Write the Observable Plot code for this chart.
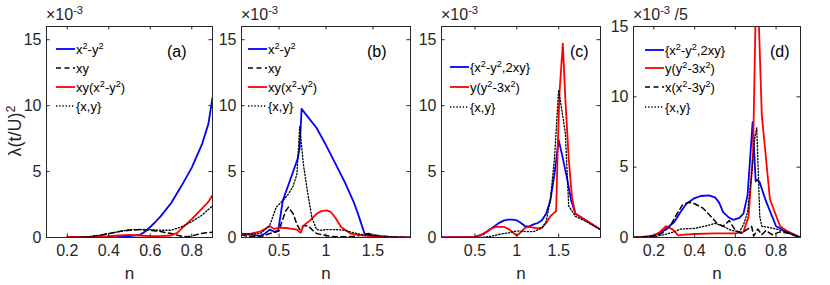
<!DOCTYPE html>
<html><head><meta charset="utf-8">
<script src="https://cdn.jsdelivr.net/npm/d3@7"></script>
<script src="https://cdn.jsdelivr.net/npm/@observablehq/plot@0.6"></script>
<style>
body{margin:0;background:#fff;}
#wrap{position:relative;width:830px;height:285px;font-family:"Liberation Sans",Arial,Helvetica,sans-serif;overflow:hidden;}
.ann{position:absolute;white-space:nowrap;color:#000;line-height:1;}
.leg{position:absolute;white-space:nowrap;display:flex;align-items:center;font-size:13px;color:#000;height:14px;}
.leg svg{margin-right:1px;}
sup{font-size:0.7em;vertical-align:0.5em;line-height:0;}
</style></head><body><div id="wrap"></div><script>
// ---------------- data: n vs λ(t/U)^2 (×10^-3) ----------------
// panel (a)
const aBlueN = [0.2,0.3,0.4,0.45,0.5,0.55,0.58,0.62,0.65,0.7,0.75,0.8,0.85,0.88,0.9];
const aBlueV = [0,0,0.03,0.05,0.1,0.2,0.5,1.1,1.6,2.6,3.9,5.3,7.1,8.6,10.6];
const aDashN = [0.2,0.3,0.35,0.4,0.45,0.5,0.55,0.6,0.65,0.7,0.75,0.78,0.82,0.86,0.9];
const aDashV = [0,0.05,0.15,0.3,0.45,0.55,0.6,0.55,0.45,0.3,0.1,0.05,0.2,0.35,0.4];
const aRedN  = [0.2,0.3,0.4,0.45,0.5,0.55,0.6,0.65,0.7,0.73,0.76,0.8,0.85,0.88,0.9];
const aRedV  = [0.05,0.05,0.1,0.15,0.2,0.15,0.1,0.1,0.15,0.35,0.8,1.4,2.2,2.7,3.2];
const aDotN  = [0.2,0.3,0.35,0.4,0.45,0.5,0.55,0.6,0.65,0.7,0.75,0.8,0.85,0.9];
const aDotV  = [0,0.05,0.15,0.3,0.45,0.6,0.6,0.6,0.55,0.55,0.8,1.2,1.7,2.4];
// panel (b)
const bBlueN = [0.1,0.2,0.3,0.35,0.4,0.45,0.49,0.54,0.6,0.65,0.7,0.72,0.74,0.8,0.9,1.0,1.1,1.2,1.3,1.35,1.41,1.5,1.6,1.7,1.9];
const bBlueV = [0.3,0.2,0.12,0.3,0.6,0.45,0.5,2.8,4.0,5.0,6.0,6.8,9.75,9.2,8.3,7.0,5.6,4.2,2.6,1.6,0.3,0.15,0.05,0,0];
const bDashN = [0.1,0.2,0.3,0.4,0.5,0.53,0.57,0.6,0.65,0.69,0.72,0.76,0.81,0.85,0.9,1.0,1.1,1.2,1.3,1.4,1.45,1.5,1.6,1.7,1.9];
const bDashV = [0.2,0.05,0.05,0.3,0.5,1.2,2.0,2.3,1.8,1.0,0.6,0.9,0.9,0.6,0.3,0.15,0.05,0.05,0.1,0.2,0.3,0.2,0.1,0.05,0];
const bRedN  = [0.1,0.2,0.3,0.4,0.45,0.5,0.6,0.69,0.73,0.76,0.83,0.9,0.95,1.01,1.05,1.1,1.16,1.26,1.4,1.5,1.7,1.9];
const bRedV  = [0.25,0.3,0.45,0.85,0.65,0.75,0.7,0.6,0.35,0.9,1.3,1.8,2.0,2.05,1.95,1.5,0.8,0.3,0.15,0.1,0.03,0];
const bDotN  = [0.1,0.2,0.3,0.4,0.47,0.54,0.6,0.65,0.69,0.72,0.76,0.8,0.85,0.9,0.95,1.0,1.1,1.2,1.3,1.4,1.5,1.6,1.7,1.9];
const bDotV  = [0.3,0.25,0.3,0.9,2.3,2.8,3.3,3.9,4.8,8.4,5.5,3.6,1.5,0.6,0.55,0.6,0.6,0.55,0.35,0.2,0.15,0.1,0.05,0];
// panel (c)
const cBlueN = [0.1,0.4,0.5,0.6,0.7,0.8,0.85,0.9,0.95,1.0,1.05,1.1,1.15,1.2,1.25,1.3,1.35,1.4,1.45,1.5,1.55,1.6,1.65,1.7,1.8,1.9,2.0];
const cBlueV = [0,0,0.05,0.25,0.7,1.15,1.3,1.35,1.35,1.3,1.1,0.85,0.85,1.0,1.1,1.3,1.8,2.8,4.8,7.4,6.0,4.5,2.8,1.8,1.4,1.0,0.6];
const cRedN  = [0.1,0.5,0.55,0.6,0.65,0.7,0.75,0.8,0.85,0.9,0.95,1.0,1.05,1.1,1.15,1.2,1.25,1.3,1.35,1.4,1.45,1.47,1.49,1.51,1.55,1.58,1.62,1.66,1.7,1.8,1.9,2.0];
const cRedV  = [0,0.05,0.15,0.3,0.5,0.7,0.8,0.8,0.8,0.65,0.4,0.15,0.4,0.75,0.8,0.75,0.7,0.75,1.1,1.6,1.9,2.0,7.0,11.0,14.7,10.5,6.0,3.0,1.8,1.4,1.0,0.6];
const cDotN  = [0.1,0.6,0.7,0.8,0.9,1.0,1.1,1.2,1.3,1.35,1.4,1.45,1.5,1.53,1.58,1.62,1.7,1.8,1.9,2.0];
const cDotV  = [0,0.02,0.1,0.25,0.35,0.5,0.45,0.45,0.7,1.2,2.8,6.0,11.2,10.0,7.9,2.4,1.6,1.3,0.95,0.6];
// panel (d)  (values /5)
const dBlueN = [0.1,0.15,0.2,0.25,0.3,0.33,0.36,0.4,0.43,0.47,0.5,0.52,0.54,0.57,0.59,0.62,0.64,0.66,0.685,0.7,0.71,0.72,0.75,0.8,0.85,0.9,0.92];
const dBlueV = [0,0.02,0.15,0.5,1.1,1.8,2.4,2.8,2.95,3.0,2.85,2.5,1.8,1.4,1.25,1.4,1.7,3.0,8.2,4.0,4.1,3.9,2.6,0.8,0.4,0.1,0];
const dRedN  = [0.1,0.2,0.23,0.26,0.29,0.32,0.35,0.4,0.5,0.6,0.64,0.665,0.687,0.705,0.73,0.77,0.82,0.85,0.92];
const dRedV  = [0,0.1,0.4,0.8,0.6,0.15,0.2,0.25,0.3,0.3,0.4,1.5,6,20,8.7,2.7,0.8,0.5,0];
const dDashN = [0.1,0.2,0.24,0.28,0.31,0.34,0.37,0.4,0.44,0.48,0.51,0.54,0.57,0.6,0.63,0.66,0.68,0.69,0.71,0.73,0.75,0.78,0.82,0.86,0.9,0.92];
const dDashV = [0,0.1,0.3,0.8,1.6,2.3,2.5,2.4,2.1,1.5,1.0,0.8,1.2,0.5,0.3,0.6,0.8,0.1,0.6,0.2,0.5,0.2,0.4,0.3,0.1,0];
const dDotN  = [0.1,0.2,0.25,0.3,0.33,0.4,0.45,0.5,0.54,0.58,0.62,0.64,0.66,0.68,0.695,0.705,0.712,0.72,0.73,0.77,0.8,0.85,0.9,0.92];
const dDotV  = [0,0.05,0.2,0.4,0.6,0.65,0.8,1.0,0.8,0.5,0.4,0.9,1.8,4.5,7.0,7.8,5.0,1.5,0.8,0.7,0.6,0.4,0.15,0];

// tick labels
const xTicksA = [0.2,0.4,0.6,0.8];
const xTicksB = [0.5,1,1.5];
const xTicksC = [0.5,1,1.5];
const xTicksD = [0.2,0.4,0.6,0.8];
const yTicks = [0,5,10,15];

// legend labels
const labX2Y2 = "x<sup>2</sup>-y<sup>2</sup>";
const labXY = "xy";
const labXYX2Y2 = "xy(x<sup>2</sup>-y<sup>2</sup>)";
const labXYset = "{x,y}";
const labD = "{x<sup>2</sup>-y<sup>2</sup>,2xy}";
const labF1 = "y(y<sup>2</sup>-3x<sup>2</sup>)";
const labF2 = "x(x<sup>2</sup>-3y<sup>2</sup>)";

// ---------------- styles / layout ----------------
const ST = {
  blue: {stroke:"#0000ff", strokeWidth:1.8},
  red:  {stroke:"#ff0000", strokeWidth:1.8},
  dash: {stroke:"#000", strokeWidth:1.5, strokeDasharray:"5,3.5"},
  dot:  {stroke:"#000", strokeWidth:1.3, strokeDasharray:"1.3,1.9"}
};
const W = 830, H = 285, TOP = 26, BOT = 237;

const panels = [
  {tag:"(a)", l:46, r:212, xd:[0.1,0.9], xt:xTicksA, ymax:16, exp:"×10<sup>-3</sup>",
   series:[[aBlueN,aBlueV,"blue",labX2Y2],[aDashN,aDashV,"dash",labXY],[aRedN,aRedV,"red",labXYX2Y2],[aDotN,aDotV,"dot",labXYset]],
   legX:10, legRows:[49,68,87,106], tagX:167},
  {tag:"(b)", l:241, r:410, xd:[0.1,1.9], xt:xTicksB, ymax:16, exp:"×10<sup>-3</sup>",
   series:[[bBlueN,bBlueV,"blue",labX2Y2],[bDashN,bDashV,"dash",labXY],[bRedN,bRedV,"red",labXYX2Y2],[bDotN,bDotV,"dot",labXYset]],
   legX:7, legRows:[49,68,87,106], tagX:367},
  {tag:"(c)", l:441, r:600, xd:[0.1,2.0], xt:xTicksC, ymax:16, exp:"×10<sup>-3</sup>",
   series:[[cBlueN,cBlueV,"blue",labD],[cRedN,cRedV,"red",labF1],[cDotN,cDotV,"dot",labXYset]],
   legX:9, legRows:[67,87,107], tagX:570},
  {tag:"(d)", l:633, r:800, xd:[0.1,0.92], xt:xTicksD, ymax:15, exp:"×10<sup>-3</sup> /5",
   series:[[dBlueN,dBlueV,"blue",labD],[dRedN,dRedV,"red",labF1],[dDashN,dDashV,"dash",labF2],[dDotN,dDotV,"dot",labXYset]],
   legX:12, legRows:[50,68,87,107], tagX:770}
];

const wrap = document.getElementById("wrap");
const ink = "#262626";

for (const p of panels) {
  const span = p.xd[1]-p.xd[0];
  const pxW = p.r - p.l, pxH = BOT - TOP;
  const tx = span*3.5/pxW, ty = p.ymax*3.5/pxH;
  const lines = p.series.map(([N,V,st]) =>
    Plot.line(N.map((n,i)=>({n, v:V[i]})), {x:"n", y:"v", ...ST[st], clip:true, strokeLinejoin:"round"}));
  const chart = Plot.plot({
    width: W, height: H,
    marginLeft: p.l, marginRight: W - p.r, marginTop: TOP, marginBottom: H - BOT,
    x: {domain: p.xd, axis: null},
    y: {domain: [0, p.ymax], axis: null},
    style: {position:"absolute", left:"0px", top:"0px", background:"transparent", overflow:"visible", fontFamily:"Liberation Sans, Arial, sans-serif"},
    marks: [
      ...lines,
      Plot.frame({stroke: ink, strokeWidth: 1}),
      Plot.ruleX(p.xt, {x: d=>d, y1: 0, y2: ty, stroke: ink}),
      Plot.ruleX(p.xt, {x: d=>d, y1: p.ymax - ty, y2: p.ymax, stroke: ink}),
      Plot.ruleY(yTicks, {y: d=>d, x1: p.xd[0], x2: p.xd[0] + tx, stroke: ink}),
      Plot.ruleY(yTicks, {y: d=>d, x1: p.xd[1] - tx, x2: p.xd[1], stroke: ink}),
      Plot.axisX(p.xt, {tickSize: 0, tickPadding: 7, fontSize: 16, fill: ink, label: null, tickFormat: d => String(d)}),
      Plot.axisY(yTicks, {tickSize: 0, tickPadding: 5, fontSize: 16, fill: ink, label: null, tickFormat: d => String(d)}),
      Plot.text(["n"], {frameAnchor: "bottom", dy: 41, fontSize: 17, fill: ink, text: d => d})
    ]
  });
  wrap.appendChild(chart);

  // exponent label
  const e = document.createElement("div");
  e.className = "ann";
  e.style.cssText = `left:${p.l}px;top:7px;font-size:16px;color:${ink};`;
  e.innerHTML = p.exp;
  wrap.appendChild(e);
  // panel tag
  const t = document.createElement("div");
  t.className = "ann";
  t.style.cssText = `left:${p.tagX}px;top:44px;font-size:16px;`;
  t.textContent = p.tag;
  wrap.appendChild(t);
  // legend
  p.series.forEach(([N,V,st,lab], i) => {
    const s = ST[st];
    const g = document.createElement("div");
    g.className = "leg";
    g.style.left = (p.l + p.legX) + "px";
    g.style.top = (p.legRows[i] - 7) + "px";
    g.innerHTML = `<svg width="19" height="14"><line x1="0" y1="7" x2="19" y2="7" stroke="${s.stroke}" stroke-width="${s.strokeWidth}" ${s.strokeDasharray ? `stroke-dasharray="${s.strokeDasharray}"` : ""}/></svg><span>${lab}</span>`;
    wrap.appendChild(g);
  });
}

// y axis label
const yl = document.createElement("div");
yl.className = "ann";
yl.style.cssText = "left:15px;top:131px;font-size:18px;color:#262626;transform:translate(-50%,-50%) rotate(-90deg);";
yl.innerHTML = "λ(t/U)<sup>2</sup>";
wrap.appendChild(yl);
</script></body></html>
